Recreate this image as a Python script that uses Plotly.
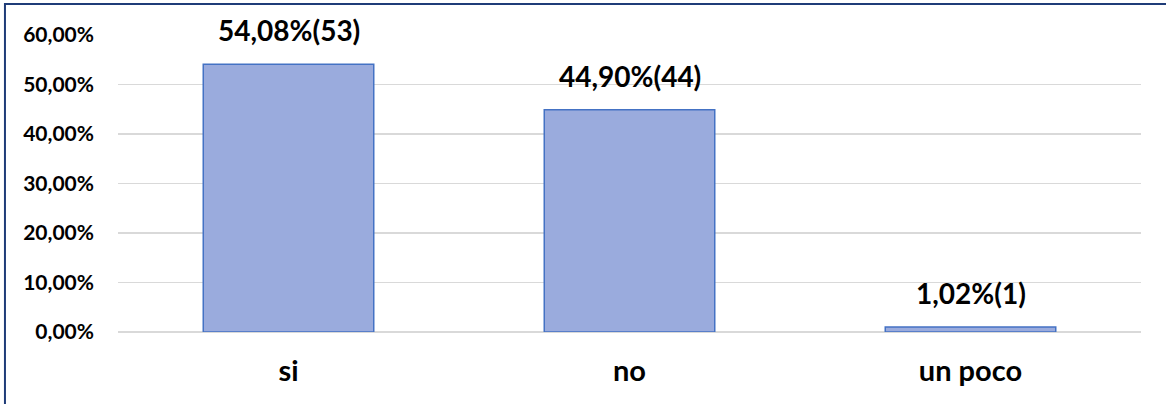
import plotly.graph_objects as go

categories = ["si", "no", "un poco"]
percentages = [54.08, 44.90, 1.02]
counts = [53, 44, 1]
tick_values = [0, 10, 20, 30, 40, 50, 60]
tick_labels = ["0,00%", "10,00%", "20,00%", "30,00%", "40,00%", "50,00%", "60,00%"]

FONT = "Lato"

labels = [f"{p:.2f}".replace(".", ",") + f"%({c})" for p, c in zip(percentages, counts)]

fig = go.Figure()
fig.add_trace(go.Bar(
    x=categories,
    y=percentages,
    width=0.5,
    marker=dict(color="#9aabdd", line=dict(color="#4472c4", width=1.5)),
    hoverinfo="skip",
))

for cat, p, lab in zip(categories, percentages, labels):
    fig.add_annotation(
        x=cat, y=p, text=f"<b>{lab}</b>", showarrow=False,
        yanchor="bottom", yshift=15,
        font=dict(family=FONT, size=28, color="#000000"),
    )

fig.add_shape(
    type="rect", xref="paper", yref="paper",
    x0=-0.1105, x1=1.06, y0=-0.35, y1=1.104,
    line=dict(color="#1f3c78", width=2), fillcolor="rgba(0,0,0,0)", layer="above",
)

fig.update_layout(
    width=1166, height=404,
    margin=dict(l=118, r=25, t=35, b=72),
    paper_bgcolor="white", plot_bgcolor="white",
    showlegend=False,
    bargap=0.5,
    font=dict(family=FONT, color="#000000"),
)
fig.update_xaxes(
    showgrid=False, showline=False, zeroline=False,
    tickfont=dict(family=FONT, size=29, color="#000000"),
    ticklabelstandoff=19,
    tickprefix="<b>", ticksuffix="</b>",
)
fig.update_yaxes(
    range=[0, 60], tickvals=tick_values, ticktext=[f"<b>{t}</b>" for t in tick_labels],
    showgrid=True, gridcolor="#d9d9d9", gridwidth=1.5,
    zeroline=True, zerolinecolor="#d9d9d9", zerolinewidth=1.5,
    showline=False,
    tickfont=dict(family=FONT, size=21, color="#000000"),
    ticklabelstandoff=23,
)

fig.write_html(
    "out.html",
    config={"displayModeBar": False, "staticPlot": True},
    post_script="document.body.style.margin='0';document.body.style.overflow='hidden';",
)
